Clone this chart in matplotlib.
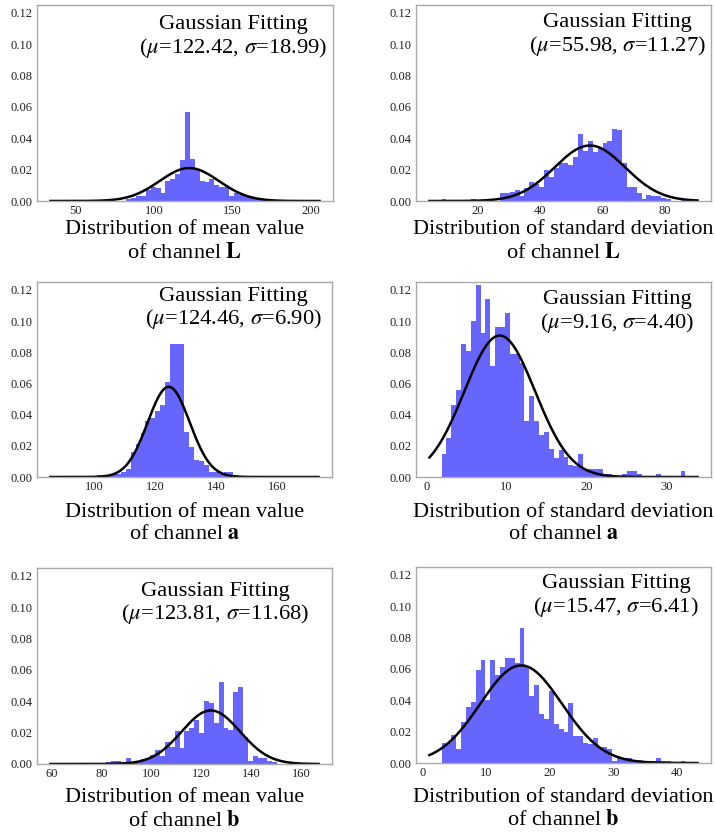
import numpy as np
import matplotlib
matplotlib.use('Agg')
import matplotlib.pyplot as plt
from matplotlib.ticker import FormatStrFormatter

plt.rcParams['font.family'] = ['Liberation Serif', 'DejaVu Serif']
plt.rcParams['mathtext.fontset'] = 'stix'

#--------------------------------
# 1. DATA (histogram densities, 50 bins over [lo, hi])
#--------------------------------
channels = ['L', 'L', 'a', 'a', 'b', 'b']
stats = ['mean value', 'standard deviation'] * 3
mu_fit = [122.42, 55.98, 124.46, 9.16, 123.81, 15.47]
sigma_fit = [18.99, 11.27, 6.90, 4.40, 11.68, 6.41]
data_lo = [41.5, 8.6, 89.6, 1.92, 64.4, 3.0]
data_hi = [197.9, 86.5, 169.7, 32.28, 162.1, 41.24]

x_ticks = [
    [50, 100, 150, 200],
    [20, 40, 60, 80],
    [100, 120, 140, 160],
    [0, 10, 20, 30],
    [60, 80, 100, 120, 140, 160],
    [0, 10, 20, 30, 40],
]
y_ticks = [0.00, 0.02, 0.04, 0.06, 0.08, 0.10, 0.12]

hist_mean_L = [
    0.0003, 0, 0, 0, 0, 0, 0, 0, 0, 0,
    0, 0, 0, 0.001, 0.002, 0.003, 0.003, 0.007, 0.009, 0.008,
    0.005, 0.013, 0.014, 0.017, 0.026, 0.057, 0.027, 0.020, 0.013, 0.012,
    0.014, 0.010, 0.009, 0.009, 0.003, 0.005, 0.004, 0.003, 0.002, 0.002,
    0.001, 0.001, 0.001, 0, 0, 0, 0, 0, 0, 0.0003,
]
hist_std_L = [
    0.001, 0, 0, 0, 0, 0, 0.001, 0, 0, 0,
    0, 0, 0.005, 0.005, 0.006, 0.007, 0.003, 0.008, 0.012, 0.011,
    0.009, 0.020, 0.015, 0.021, 0.024, 0.024, 0.023, 0.028, 0.043, 0.032,
    0.038, 0.031, 0.034, 0.037, 0.038, 0.046, 0.045, 0.024, 0.009, 0.009,
    0.005, 0.001, 0.004, 0.003, 0.003, 0.002, 0.001, 0, 0, 0.001,
]
hist_mean_a = [
    0.0005, 0, 0, 0, 0, 0, 0, 0.001, 0.001, 0.001,
    0.002, 0.002, 0.003, 0.005, 0.016, 0.021, 0.028, 0.036, 0.038, 0.042,
    0.046, 0.061, 0.085, 0.085, 0.085, 0.029, 0.019, 0.011, 0.010, 0.008,
    0.003, 0.003, 0.002, 0.003, 0.003, 0.001, 0, 0, 0, 0,
    0, 0, 0, 0, 0, 0, 0, 0, 0, 0.0005,
]
hist_std_a = [
    0.015, 0.025, 0.046, 0.056, 0.085, 0.081, 0.100, 0.123, 0.092, 0.114,
    0.071, 0.096, 0.096, 0.105, 0.079, 0.079, 0.073, 0.036, 0.052, 0.036,
    0.027, 0.029, 0.018, 0.012, 0.017, 0.013, 0.008, 0.007, 0.015, 0.005,
    0.005, 0.005, 0.005, 0.002, 0.002, 0, 0, 0.002, 0.004, 0.004,
    0.002, 0, 0, 0, 0.002, 0, 0, 0, 0, 0.004,
]
hist_mean_b = [
    0.0005, 0, 0, 0, 0, 0, 0, 0, 0, 0.001,
    0.002, 0.002, 0.001, 0.004, 0.001, 0.002, 0.003, 0.004, 0.006, 0.009,
    0.005, 0.014, 0.011, 0.021, 0.010, 0.021, 0.023, 0.028, 0.020, 0.040,
    0.039, 0.026, 0.052, 0.023, 0.022, 0.046, 0.049, 0.017, 0.002, 0.005,
    0.004, 0.004, 0.002, 0.001, 0, 0, 0, 0, 0, 0.0005,
]
hist_std_b = [
    0.013, 0.013, 0.018, 0.009, 0.026, 0.036, 0.039, 0.059, 0.066, 0.040,
    0.066, 0.056, 0.061, 0.067, 0.067, 0.064, 0.086, 0.062, 0.043, 0.050,
    0.031, 0.028, 0.046, 0.025, 0.022, 0.020, 0.038, 0.017, 0.017, 0.013,
    0.012, 0.016, 0.010, 0.010, 0.009, 0.001, 0.003, 0.003, 0.003, 0.002,
    0.002, 0.001, 0.001, 0.001, 0.003, 0.001, 0.001, 0, 0, 0.001,
]
hists = [hist_mean_L, hist_std_L, hist_mean_a, hist_std_a, hist_mean_b, hist_std_b]

#--------------------------------
# 2. LAYOUT
#--------------------------------
W, H = 714, 834
# axes boxes in pixels: left, top, right, bottom
boxes = [
    (37, 5, 333, 201), (416, 5, 711, 201),
    (37, 282, 332, 477), (416, 282, 711, 477),
    (37, 568, 332, 764), (416, 567, 711, 763),
]
# centre of the fit annotation in axes fractions
text_pos = [(0.662, 0.834), (0.684, 0.843), (0.667, 0.861),
            (0.681, 0.844), (0.604, 0.817), (0.678, 0.849)]
label_pads = [2, 2, 7, 7, 6, 6]

fig = plt.figure(figsize=(W / 100, H / 100), dpi=100)

for i in range(6):
    l, t, r, b = boxes[i]
    ax = fig.add_axes([l / W, 1 - b / H, (r - l) / W, (b - t) / H])

    edges = np.linspace(data_lo[i], data_hi[i], len(hists[i]) + 1)
    centers = 0.5 * (edges[:-1] + edges[1:])
    ax.hist(centers, bins=edges, weights=hists[i], color='blue', alpha=0.6)

    # gaussian fit drawn over the histogram's x range
    xmin, xmax = ax.get_xlim()
    x = np.linspace(xmin, xmax, 200)
    mu, s = mu_fit[i], sigma_fit[i]
    p = np.exp(-(x - mu) ** 2 / (2 * s ** 2)) / (s * np.sqrt(2 * np.pi))
    ax.plot(x, p, 'k', linewidth=1.8)

    ax.set_ylim(0, 0.125)
    ax.set_xticks(x_ticks[i])
    ax.set_yticks(y_ticks)
    ax.yaxis.set_major_formatter(FormatStrFormatter('%.2f'))
    ax.tick_params(length=0, labelsize=9, pad=3, labelcolor='#222222')
    for sp in ax.spines.values():
        sp.set_color('#aaaaaa')
        sp.set_linewidth(1.0)

    ax.text(text_pos[i][0], text_pos[i][1],
            'Gaussian Fitting\n($\\mu$=%.2f, $\\sigma$=%.2f)' % (mu, s),
            transform=ax.transAxes, ha='center', va='center',
            fontsize=16.2, linespacing=1.1)

    ax.set_xlabel('Distribution of %s\nof channel $\\mathbf{%s}$' % (stats[i], channels[i]),
                  fontsize=16, labelpad=label_pads[i], linespacing=1.25)

fig.savefig('out.png', dpi=100)
